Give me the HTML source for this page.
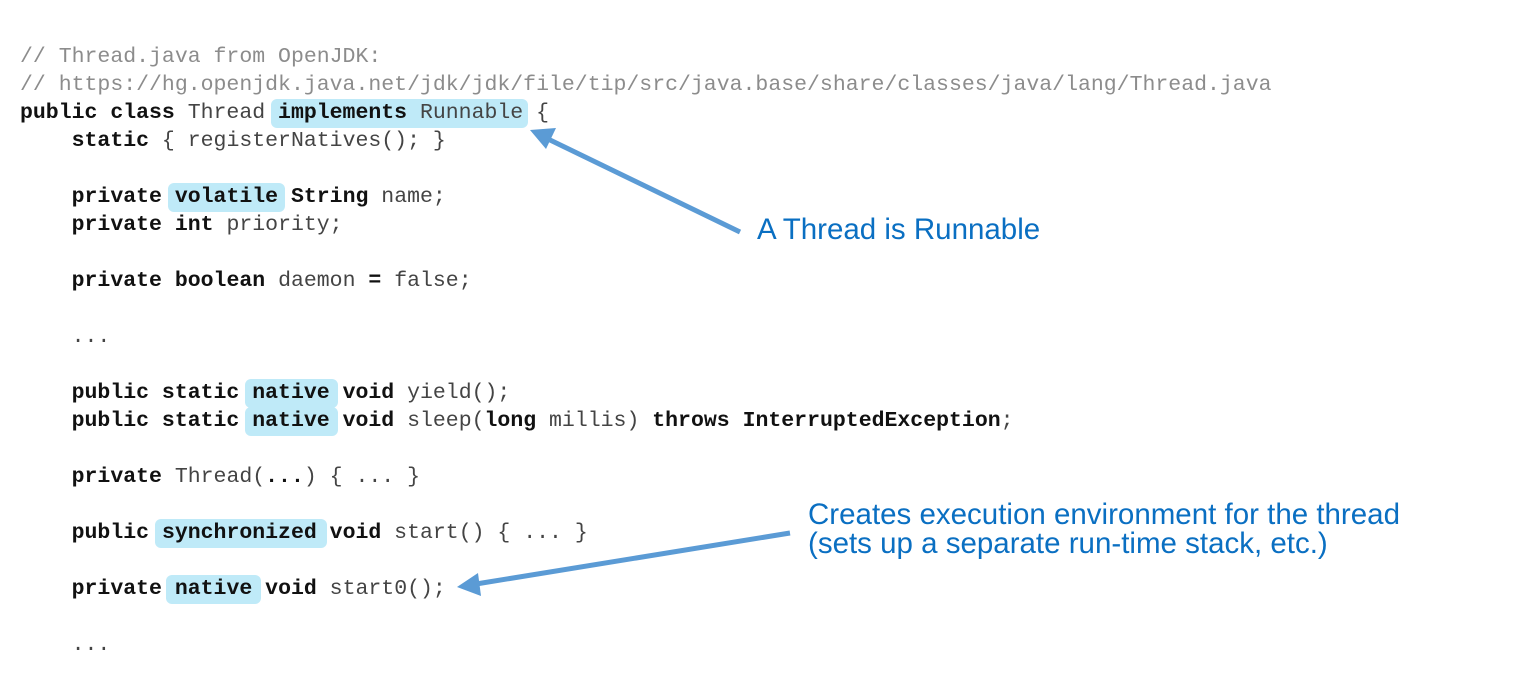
<!DOCTYPE html>
<html><head><meta charset="utf-8"><style>
html,body{margin:0;padding:0;background:#fff;width:1532px;height:678px;overflow:hidden;position:relative}
.l{position:absolute;left:20px;height:28px;line-height:28px;font-family:"Liberation Mono",monospace;font-size:21.5px;color:#444;white-space:pre;z-index:2}
.c{color:#8c8c8c}
b{color:#111}
.h{position:absolute;background:#bfeaf8;border-radius:6px;height:29px;z-index:1}
.t{position:absolute;font-family:"Liberation Sans",sans-serif;font-size:29.5px;color:#0a6fc2;line-height:29px;white-space:pre}
</style></head><body>
<div class="h" style="left:271px;top:99px;width:257px"></div>
<div class="h" style="left:168px;top:183px;width:117px"></div>
<div class="h" style="left:245px;top:379px;width:93px"></div>
<div class="h" style="left:245px;top:407px;width:93px"></div>
<div class="h" style="left:155px;top:519px;width:172px"></div>
<div class="h" style="left:166px;top:575px;width:95px"></div>

<div class="l c" style="top:43px">// Thread.java from OpenJDK:</div>
<div class="l c" style="top:71px">// https://hg.openjdk.java.net/jdk/jdk/file/tip/src/java.base/share/classes/java/lang/Thread.java</div>
<div class="l" style="top:99px"><b>public class</b> Thread <b>implements</b> Runnable {</div>
<div class="l" style="top:127px">    <b>static</b> { registerNatives(); }</div>
<div class="l" style="top:183px">    <b>private</b> <b>volatile</b> <b>String</b> name;</div>
<div class="l" style="top:211px">    <b>private</b> <b>int</b> priority;</div>
<div class="l" style="top:267px">    <b>private</b> <b>boolean</b> daemon <b>=</b> false;</div>
<div class="l" style="top:323px">    ...</div>
<div class="l" style="top:379px">    <b>public static</b> <b>native</b> <b>void</b> yield();</div>
<div class="l" style="top:407px">    <b>public static</b> <b>native</b> <b>void</b> sleep(<b>long</b> millis) <b>throws</b> <b>InterruptedException</b>;</div>
<div class="l" style="top:463px">    <b>private</b> Thread(<b>...</b>) { ... }</div>
<div class="l" style="top:519px">    <b>public</b> <b>synchronized</b> <b>void</b> start() { ... }</div>
<div class="l" style="top:575px">    <b>private</b> <b>native</b> <b>void</b> start0();</div>
<div class="l" style="top:631px">    ...</div>

<svg style="position:absolute;left:0;top:0;z-index:3" width="1532" height="678">
<line x1="740" y1="232" x2="548" y2="139" stroke="#5b9bd5" stroke-width="5"/>
<polygon points="530,130 556,128 546,149" fill="#5b9bd5"/>
<line x1="790" y1="533" x2="476" y2="584" stroke="#5b9bd5" stroke-width="5"/>
<polygon points="457,587 478,573 481,596" fill="#5b9bd5"/>
</svg>
<div class="t" style="left:757px;top:215px">A Thread is Runnable</div>
<div class="t" style="left:808px;top:500px">Creates execution environment for the thread</div>
<div class="t" style="left:808px;top:529px">(sets up a separate run-time stack, etc.)</div>
</body></html>
